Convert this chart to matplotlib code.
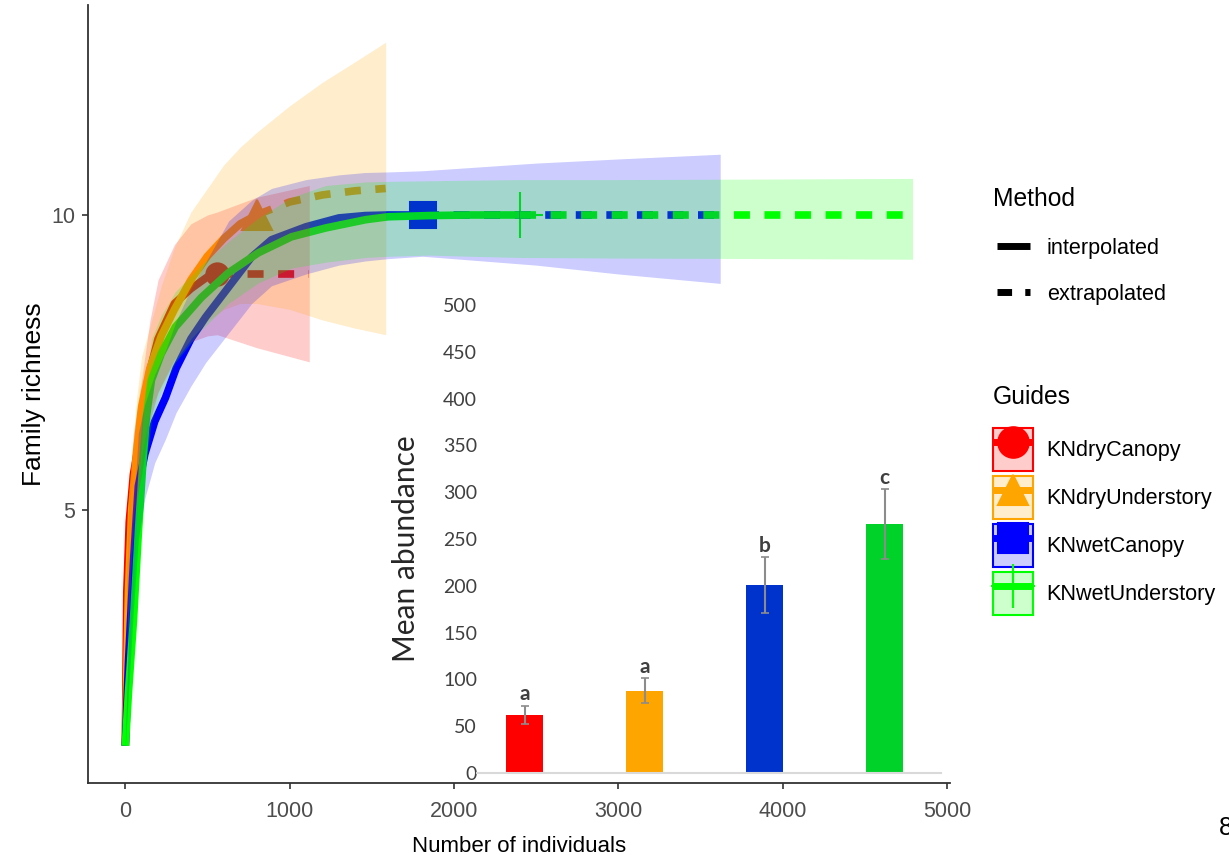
import matplotlib
matplotlib.use('Agg')
import matplotlib.pyplot as plt
from matplotlib.lines import Line2D
from matplotlib.patches import Patch
from matplotlib.legend_handler import HandlerTuple

SANS = ['Liberation Sans', 'DejaVu Sans']
INSET = ['Lato', 'DejaVu Sans']

guides = ['KNdryCanopy', 'KNdryUnderstory', 'KNwetCanopy', 'KNwetUnderstory']
colors = ['#FF0000', '#FFA500', '#0000FF', '#00FF00']
markers = ['o', '^', 's', '+']

# KNdryCanopy
dc_int_n = [1, 10, 25, 50, 100, 150, 200, 300, 400, 500, 560]
dc_int_s = [1.0, 3.6, 4.8, 5.6, 6.4, 7.35, 7.9, 8.5, 8.75, 8.95, 9.0]
dc_ext_n = [560, 800, 1120]
dc_ext_s = [9.0, 9.0, 9.0]
dc_lo = [1.0, 3.1, 4.2, 4.9, 5.6, 6.5, 7.0, 7.55, 7.85, 7.95, 7.97, 7.75, 7.51]
dc_hi = [1.0, 4.1, 5.4, 6.3, 7.2, 8.2, 8.9, 9.5, 9.85, 10.0, 10.05, 10.3, 10.5]

# KNdryUnderstory
du_int_n = [1, 20, 40, 70, 100, 150, 220, 300, 400, 500, 600, 700, 800]
du_int_s = [1.0, 3.6, 5.0, 6.0, 6.75, 7.4, 7.95, 8.4, 8.9, 9.3, 9.6, 9.85, 10.0]
du_ext_n = [800, 1000, 1200, 1400, 1585]
du_ext_s = [10.0, 10.22, 10.34, 10.41, 10.45]
du_lo = [1.0, 3.0, 4.2, 5.1, 5.9, 6.7, 7.1, 7.5, 7.9, 8.2, 8.4, 8.5, 8.5, 8.4, 8.22, 8.08, 7.97]
du_hi = [1.0, 4.2, 5.8, 6.9, 7.6, 8.1, 8.8, 9.45, 10.05, 10.45, 10.85, 11.15, 11.4, 11.85, 12.25, 12.6, 12.93]

# KNwetCanopy
wc_int_n = [1, 20, 50, 80, 120, 180, 245, 310, 400, 490, 630, 770, 890, 1100, 1300, 1460, 1600, 1810]
wc_int_s = [1.0, 2.4, 4.1, 5.4, 5.95, 6.5, 6.9, 7.4, 7.9, 8.27, 8.78, 9.29, 9.58, 9.8, 9.95, 9.99, 10.0, 10.0]
wc_ext_n = [1810, 2500, 3000, 3620]
wc_ext_s = [10.0, 10.0, 10.0, 10.0]
wc_lo = [1.0, 1.9, 3.3, 4.5, 5.2, 5.8, 6.2, 6.65, 7.1, 7.5, 8.0, 8.5, 8.8, 9.0, 9.15, 9.22, 9.26, 9.3, 9.15, 9.0, 8.84]
wc_hi = [1.0, 2.9, 4.9, 6.3, 6.8, 7.3, 7.7, 8.2, 8.75, 9.2, 9.9, 10.25, 10.45, 10.6, 10.68, 10.72, 10.73, 10.75, 10.88, 10.95, 11.03]

# KNwetUnderstory
wu_int_n = [1, 20, 50, 80, 110, 130, 160, 220, 305, 463, 628, 811, 1012, 1220, 1463, 1600, 1850, 2100, 2400]
wu_int_s = [1.0, 1.9, 3.1, 4.6, 5.9, 6.6, 7.2, 7.65, 8.1, 8.6, 9.02, 9.36, 9.63, 9.78, 9.92, 9.97, 9.99, 10.0, 10.0]
wu_ext_n = [2400, 3000, 4000, 4790]
wu_ext_s = [10.0, 10.0, 10.0, 10.0]
wu_lo = [1.0, 1.5, 2.6, 3.9, 5.2, 5.9, 6.5, 7.0, 7.5, 8.05, 8.5, 8.85, 9.1, 9.2, 9.28, 9.3, 9.32, 9.3, 9.28, 9.27, 9.26, 9.25]
wu_hi = [1.0, 2.3, 3.7, 5.3, 6.6, 7.3, 7.9, 8.3, 8.7, 9.15, 9.55, 9.95, 10.3, 10.5, 10.56, 10.57, 10.58, 10.59, 10.6, 10.6, 10.61, 10.62]

series = [
    (dc_int_n, dc_int_s, dc_ext_n, dc_ext_s, dc_lo, dc_hi),
    (du_int_n, du_int_s, du_ext_n, du_ext_s, du_lo, du_hi),
    (wc_int_n, wc_int_s, wc_ext_n, wc_ext_s, wc_lo, wc_hi),
    (wu_int_n, wu_int_s, wu_ext_n, wu_ext_s, wu_lo, wu_hi),
]

# inset bar chart
bar_means = [62, 88, 201, 266]
bar_errs = [10, 13, 30, 37]
bar_letters = ['a', 'a', 'b', 'c']
bar_colors = ['#FF0000', '#FFA500', '#0033CC', '#00D22A']

W, H = 1229, 855
fig = plt.figure(figsize=(W / 100, H / 100), dpi=100)
ax = fig.add_axes([88 / W, 72 / H, (950 - 88) / W, (783 - 5) / H])

marker_sizes = [16, 21, 19, 33]
dash = (0, (2.1, 1.9))
# points first, then lines, then ribbons on top
for i, (n_i, s_i, n_e, s_e, lo, hi) in enumerate(series):
    ax.plot(n_i[-1], s_i[-1], marker=markers[i], ms=marker_sizes[i], color=colors[i],
            mew=1.5, ls='none', zorder=1.5)
for i, (n_i, s_i, n_e, s_e, lo, hi) in enumerate(series):
    ax.plot(n_i, s_i, color=colors[i], lw=5.5, solid_capstyle='butt', zorder=2)
    ax.plot(n_e, s_e, color=colors[i], lw=5.5, ls=dash, dash_capstyle='butt', zorder=2)
for i, (n_i, s_i, n_e, s_e, lo, hi) in enumerate(series):
    n_all = list(n_i) + list(n_e[1:])
    ax.fill_between(n_all, lo, hi, color=colors[i], alpha=0.2, lw=0, zorder=3)

ax.set_xlim(-226, 5018)
ax.set_ylim(0.37, 13.56)
ax.set_xticks([0, 1000, 2000, 3000, 4000, 5000])
ax.set_yticks([5, 10])
for s in ['top', 'right']:
    ax.spines[s].set_visible(False)
for s in ['left', 'bottom']:
    ax.spines[s].set_color('#333333')
    ax.spines[s].set_linewidth(1.3)
ax.tick_params(length=4, width=1.2, color='#333333', labelcolor='#4D4D4D', labelsize=15.5, pad=5)
ax.tick_params(axis='x', pad=9)
for lab in ax.get_xticklabels() + ax.get_yticklabels():
    lab.set_family(SANS)
ax.set_xlabel('Number of individuals', fontsize=16, family=SANS, labelpad=10)
ax.set_ylabel('Family richness', fontsize=19, family=SANS, labelpad=4)

# legends
fig.text(993 / W, 1 - 199 / H, 'Method', fontsize=17.7, family=SANS, va='center', ha='left')
fig.text(993 / W, 1 - 397 / H, 'Guides', fontsize=17.7, family=SANS, va='center', ha='left')

mh = [Line2D([], [], color='black', lw=5, solid_capstyle='butt'),
      Line2D([], [], color='black', lw=5, ls=dash, dash_capstyle='butt')]
fig.legend(mh, ['interpolated', 'extrapolated'], loc='upper left',
           bbox_to_anchor=(997 / W, 1 - 238 / H), frameon=False, borderpad=0,
           borderaxespad=0, handlelength=1.5, handletextpad=0.8, labelspacing=1.15,
           prop={'family': SANS, 'size': 15.6})

light = ['#FFCCCC', '#FFEDCC', '#CCCCFF', '#CCFFCC']
leg_ms = [22, 22, 22, 31]
gh = []
for i in range(4):
    box = Patch(facecolor=light[i], edgecolor=colors[i], linewidth=1.5)
    ln = Line2D([], [], color=colors[i], lw=5, solid_capstyle='butt', marker=markers[i],
                ms=leg_ms[i], mew=1.5)
    gh.append((box, ln))
fig.legend(gh, guides, handler_map={tuple: HandlerTuple(ndivide=1)}, loc='upper left',
           bbox_to_anchor=(993 / W, 1 - 428 / H), frameon=False, borderpad=0,
           borderaxespad=0, handlelength=1.84, handleheight=2.67, handletextpad=0.6,
           labelspacing=0.24, prop={'family': SANS, 'size': 15.6})

# inset
ax2 = fig.add_axes([477 / W, 1 - 773 / H, 464 / W, 468 / H])
ax2.set_facecolor('white')
xs = list(range(len(bar_means)))
ax2.bar(xs, bar_means, width=0.31, color=bar_colors, yerr=bar_errs,
        error_kw=dict(ecolor='#8C8C8C', elinewidth=1.5, capsize=3, capthick=1.2), zorder=2)
for x, m, e, t in zip(xs, bar_means, bar_errs, bar_letters):
    ax2.text(x, m + e + 12, t, ha='center', va='center', fontsize=15, fontweight='bold',
             color='#404040', family=INSET)
ax2.set_xlim(-0.396, 3.47)
ax2.set_ylim(0, 500)
ax2.set_yticks(range(0, 501, 50))
ax2.set_xticks([])
for s in ['top', 'right', 'left']:
    ax2.spines[s].set_visible(False)
ax2.spines['bottom'].set_color('#D9D9D9')
ax2.spines['bottom'].set_linewidth(1.5)
ax2.tick_params(axis='y', length=0, pad=0, labelsize=14, labelcolor='#404040')
for lab in ax2.get_yticklabels():
    lab.set_family(INSET)
ax2.set_ylabel('Mean abundance', fontsize=21.5, family=INSET, color='#262626')
ax2.yaxis.set_label_coords(-0.123, 0.48)

fig.text(1219 / W, 1 - 828 / H, '8', fontsize=18, family=SANS, va='center', ha='left')

fig.savefig('out.png', dpi=100)
